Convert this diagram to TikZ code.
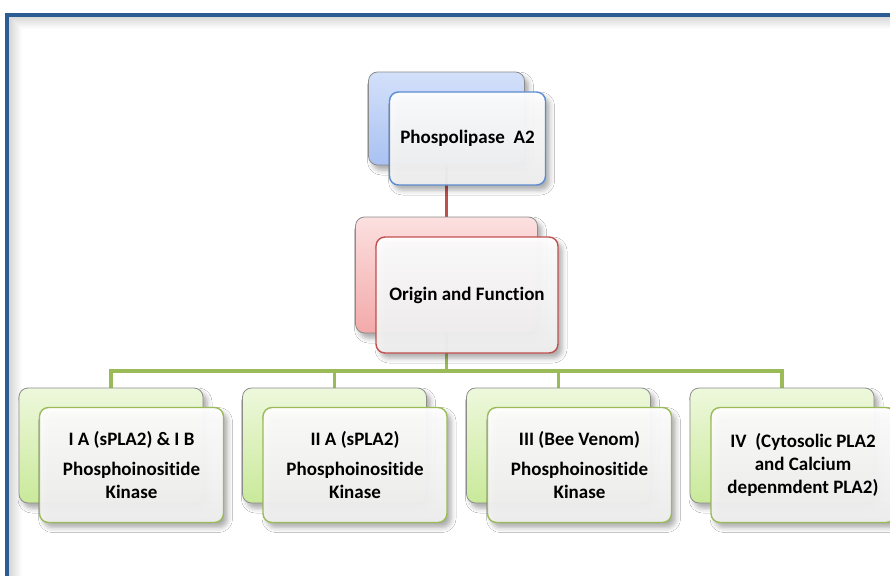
\documentclass[tikz,border=0pt]{standalone}
\usepackage{fontspec}
\setmainfont{Carlito}[Ligatures=CommonOff]
\usetikzlibrary{shadows.blur,backgrounds}
\definecolor{frameblue}{HTML}{2B5C93}
\definecolor{blueline}{HTML}{5B8BD0}
\definecolor{bluetop}{HTML}{D3E0FA}
\definecolor{bluebot}{HTML}{A9C2F2}
\definecolor{redline}{HTML}{C0504D}
\definecolor{redtop}{HTML}{FCE0E0}
\definecolor{redbot}{HTML}{F3A9A9}
\definecolor{greenline}{HTML}{9BBB59}
\definecolor{greentop}{HTML}{EEF8DC}
\definecolor{greenbot}{HTML}{C9E99A}
\definecolor{backedge}{HTML}{8C8C8C}
\begin{document}
\begin{tikzpicture}[x=1pt,y=-1pt,
  boxshape/.style={rounded corners=9pt, inner sep=0pt, line width=1.4pt,
    blur shadow={shadow xshift=4pt, shadow yshift=-5pt, shadow opacity=35, shadow blur radius=5pt}},
  backbox/.style={boxshape, draw=backedge, line width=0.8pt},
  frontbox/.style={boxshape, top color=white, bottom color=black!6, fill opacity=0.95, text opacity=1,
    align=center, font=\bfseries\fontsize{19}{23}\selectfont},
  bluebox/.style={backbox, top color=bluetop, bottom color=bluebot},
  redbox/.style={backbox, top color=redtop, bottom color=redbot},
  greenbox/.style={backbox, top color=greentop, bottom color=greenbot},
  blueface/.style={frontbox, draw=blueline},
  redface/.style={frontbox, draw=redline},
  greenface/.style={frontbox, draw=greenline},
  redconn/.style={draw=redline, line width=3.2pt},
  greenconn/.style={draw=greenline, line width=3.6pt},
  topsize/.style={minimum width=156pt, minimum height=93pt},
  midsize/.style={minimum width=182pt, minimum height=116pt},
  botsize/.style={minimum width=184pt, minimum height=115pt}
]
\useasboundingbox (0,0) rectangle (890,575);

% top
\node[bluebox, topsize] (topback) at (446.5,118.5) {};
\node[blueface, topsize] (topfront) at (467.5,138.5) {Phospolipase\ \ A2};

% middle
\node[redbox, midsize] (midback) at (446.5,275) {};
\node[redface, midsize] (midfront) at (467,295) {Origin and Function};

% bottom
\coordinate (bus) at (0,371);
\node[greenbox, botsize] (c1back) at (111,445.5) {};
\node[greenface, botsize] (c1) at (131.5,465) {I A (sPLA2) \& I B\\[7pt]Phosphoinositide\\Kinase};
\node[greenbox, botsize] (c2back) at (334.5,445.5) {};
\node[greenface, botsize] (c2) at (355,465) {II A (sPLA2)\\[7pt]Phosphoinositide\\Kinase};
\node[greenbox, botsize] (c3back) at (558.5,445.5) {};
\node[greenface, botsize] (c3) at (579.5,465) {III (Bee Venom)\\[7pt]Phosphoinositide\\Kinase};
\node[greenbox, botsize] (c4back) at (782,445.5) {};
\node[greenface, botsize] (c4) at (803,465) {IV\ \ (Cytosolic PLA2\\and Calcium\\depenmdent PLA2)};

\begin{scope}[on background layer]
  \fill[white] (0,0) rectangle (890,575);
  % frame inner shadow
  \foreach \i in {0,...,12} {
    \pgfmathsetmacro{\op}{0.16*(1-\i/13)}
    \draw[black, opacity=\op, line width=1pt] (9+\i,600) -- (9+\i,17+\i) -- (900,17+\i);
  }
  \draw[frameblue, line width=3.2pt] (7,15) rectangle (910,610);
  \draw[redconn] (topback.center) -- (midback.center);
  \draw[greenconn] (midback.center) -- (midback.center |- bus) -| (c1back.center);
  \draw[greenconn] (midback.center |- bus) -| (c2back.center);
  \draw[greenconn] (midback.center |- bus) -| (c3back.center);
  \draw[greenconn] (midback.center |- bus) -| (c4back.center);
\end{scope}
\end{tikzpicture}
\end{document}
